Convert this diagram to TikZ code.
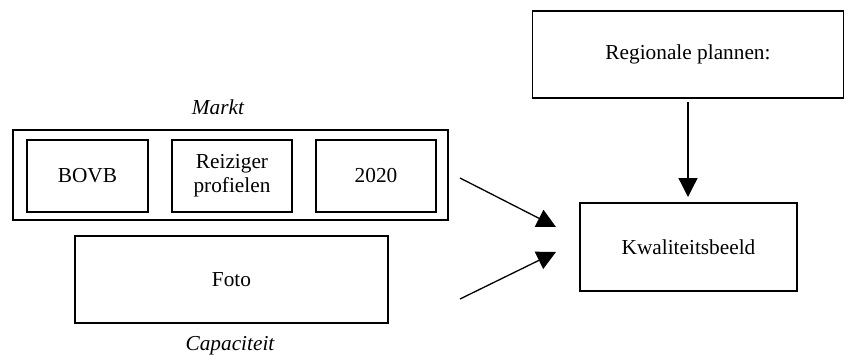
\documentclass[tikz,border=0pt]{standalone}
\usepackage{fontspec}
\setmainfont{Liberation Serif}
\usetikzlibrary{arrows.meta}
\begin{document}
\begin{tikzpicture}[x=1pt,y=-1pt,
  box/.style={draw=black,line width=1.3pt,rectangle,inner sep=0pt,align=center,
    font=\fontsize{21.3}{24}\selectfont},
  lbl/.style={inner sep=0pt,font=\fontsize{21.3}{24}\selectfont\itshape},
  arr/.style={-{Triangle[length=19pt,width=19pt]},line width=1.3pt}]
\useasboundingbox (0,0) rectangle (844,356);
\node[box,minimum width=435pt,minimum height=90pt] (markt) at (230.5,175) {};
\node[box,minimum width=121pt,minimum height=72pt] (bovb) at (87.5,176) {BOVB};
\node[box,minimum width=120pt,minimum height=72pt] (reiz) at (232,176) {Reiziger\\profielen};
\node[box,minimum width=120pt,minimum height=72pt] (y2020) at (376,176) {2020};
\node[box,minimum width=313pt,minimum height=87pt] (foto) at (231.5,279.5) {Foto};
\node[box,minimum width=311pt,minimum height=87pt] (reg) at (688,54.5) {Regionale plannen:};
\node[box,minimum width=217pt,minimum height=88pt] (kwal) at (688.5,247) {Kwaliteitsbeeld};
\node[lbl] (lmarkt) at (218,107) {Markt};
\node[lbl] (lcap) at (230,346) {Capaciteit};
\coordinate (a1s) at (460,178);
\coordinate (a1e) at (556,227);
\coordinate (a2s) at (460,299);
\coordinate (a2e) at (556,252);
\coordinate (a3s) at (688,102);
\coordinate (a3e) at (688,197);
\draw[arr] (a1s) -- (a1e);
\draw[arr] (a2s) -- (a2e);
\draw[arr] (a3s) -- (a3e);
\end{tikzpicture}
\end{document}
